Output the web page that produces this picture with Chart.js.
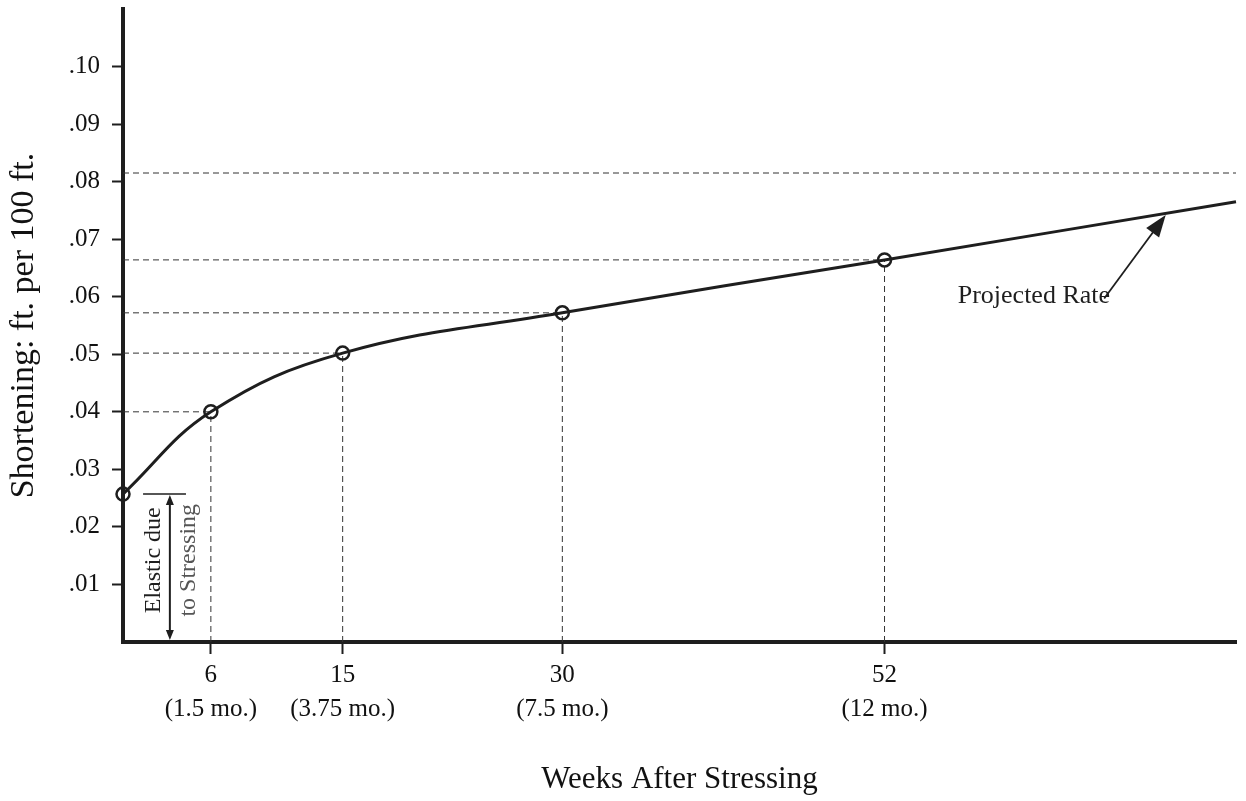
<!DOCTYPE html>
<html>
<head>
<meta charset="utf-8">
<script src="https://cdn.jsdelivr.net/npm/chart.js@4/dist/chart.umd.min.js"></script>
<style>
  html, body { margin: 0; padding: 0; background: #fff; }
  #wrap { width: 1246px; height: 801px; }
</style>
</head>
<body>
<div id="wrap"><canvas id="myChart"></canvas></div>
<script>
// measured points (weeks after stressing / shortening ft. per 100 ft.)
const weeks = [0, 6, 15, 30, 52];
const shortening = [0.0257, 0.040, 0.0502, 0.0572, 0.0664];
// projected rate, end of the line
const projWeek = 76;
const projShortening = 0.0765;
// month labels under the week ticks
const monthLabels = ['', '(1.5 mo.)', '(3.75 mo.)', '(7.5 mo.)', '(12 mo.)'];
const xTicks = [6, 15, 30, 52];
const yTicks = [0.01, 0.02, 0.03, 0.04, 0.05, 0.06, 0.07, 0.08, 0.09, 0.10];
// upper dashed guide
const upperGuide = 0.0815;

const INK = '#1e1e1e';
const SERIF = '"Liberation Serif", "Times New Roman", serif';

// curve data
const curve = weeks.map((w, i) => ({ x: w, y: shortening[i] }));
curve.push({ x: projWeek, y: projShortening });

// dashed guides to the axes
const guides = [];
for (let i = 1; i < weeks.length; i++) {
    guides.push([{ x: 0, y: shortening[i] }, { x: weeks[i], y: shortening[i] }]);
    guides.push([{ x: weeks[i], y: 0 }, { x: weeks[i], y: shortening[i] }]);
}
guides.push([{ x: 0, y: upperGuide }, { x: projWeek, y: upperGuide }]);

const datasets = [{
    data: curve,
    borderColor: INK,
    borderWidth: 3,
    tension: 0.4,
    clip: false,
    pointRadius: ctx => ctx.dataIndex < weeks.length ? 6.5 : 0,
    pointBorderWidth: 2.5,
    pointBorderColor: INK,
    pointBackgroundColor: 'rgba(0,0,0,0)',
    fill: false
}];
guides.forEach(g => datasets.push({
    data: g,
    borderColor: '#333',
    borderWidth: 1,
    borderDash: [6, 4],
    pointRadius: 0,
    tension: 0,
    fill: false
}));

function arrowHead(ctx, x0, y0, x1, y1, len, half) {
    const a = Math.atan2(y1 - y0, x1 - x0);
    ctx.beginPath();
    ctx.moveTo(x1, y1);
    ctx.lineTo(x1 - len * Math.cos(a) + half * Math.sin(a), y1 - len * Math.sin(a) - half * Math.cos(a));
    ctx.lineTo(x1 - len * Math.cos(a) - half * Math.sin(a), y1 - len * Math.sin(a) + half * Math.cos(a));
    ctx.closePath();
    ctx.fill();
}

// annotations: "Projected Rate" arrow and the elastic shortening bracket
const notes = {
    id: 'notes',
    afterDatasetsDraw(chart) {
        const { ctx, scales: { x, y } } = chart;
        ctx.save();
        ctx.strokeStyle = INK;
        ctx.fillStyle = INK;

        // projected rate
        const tx = x.getPixelForValue(67.0), ty = y.getPixelForValue(0.0597);
        const hx = x.getPixelForValue(71.2), hy = y.getPixelForValue(0.0742);
        ctx.lineWidth = 1.8;
        ctx.beginPath();
        ctx.moveTo(tx, ty);
        ctx.lineTo(hx - (hx - tx) * 0.15, hy - (hy - ty) * 0.15);
        ctx.stroke();
        arrowHead(ctx, tx, ty, hx, hy, 22, 8);
        ctx.font = '26px ' + SERIF;
        ctx.textAlign = 'right';
        ctx.textBaseline = 'middle';
        ctx.fillText('Projected Rate', x.getPixelForValue(67.4), y.getPixelForValue(0.0601));

        // elastic due to stressing
        const ex = x.getPixelForValue(3.2);
        const eTop = y.getPixelForValue(shortening[0]);
        const eBot = y.getPixelForValue(0);
        ctx.lineWidth = 1.5;
        ctx.beginPath();
        ctx.moveTo(x.getPixelForValue(1.37), eTop);
        ctx.lineTo(x.getPixelForValue(4.3), eTop);
        ctx.stroke();
        ctx.lineWidth = 2;
        ctx.beginPath();
        ctx.moveTo(ex, eTop + 8);
        ctx.lineTo(ex, eBot - 8);
        ctx.stroke();
        arrowHead(ctx, ex, eBot, ex, eTop + 1, 10, 4);
        arrowHead(ctx, ex, eTop, ex, eBot - 2, 10, 4);

        const ty2 = y.getPixelForValue(0.0142);
        ctx.textAlign = 'center';
        ctx.textBaseline = 'middle';
        ctx.font = '24px ' + SERIF;
        ctx.save();
        ctx.translate(x.getPixelForValue(2.1), ty2);
        ctx.rotate(-Math.PI / 2);
        ctx.fillText('Elastic due', 0, 0);
        ctx.restore();
        ctx.save();
        ctx.fillStyle = '#555';
        ctx.translate(x.getPixelForValue(4.5), ty2);
        ctx.rotate(-Math.PI / 2);
        ctx.fillText('to Stressing', 0, 0);
        ctx.restore();

        ctx.restore();
    }
};

new Chart(document.getElementById('myChart'), {
    type: 'line',
    data: { datasets: datasets },
    options: {
        responsive: true,
        maintainAspectRatio: false,
        animation: false,
        devicePixelRatio: 1,
        layout: { padding: { top: 8, right: 10, left: 0, bottom: 0 } },
        plugins: {
            legend: { display: false },
            tooltip: { enabled: false },
            title: { display: false }
        },
        scales: {
            x: {
                type: 'linear',
                min: 0,
                max: projWeek,
                afterBuildTicks: s => { s.ticks = xTicks.map(v => ({ value: v })); },
                afterFit: s => { s.height = 159; s.paddingLeft = 0; s.paddingRight = 0; },
                border: { display: true, color: INK, width: 4 },
                grid: { drawOnChartArea: false, drawTicks: true, tickLength: 12, tickWidth: 2, tickColor: INK },
                ticks: {
                    autoSkip: false,
                    maxRotation: 0,
                    padding: 4,
                    color: '#111',
                    font: { family: SERIF, size: 25, lineHeight: 1.36 },
                    callback: v => [String(v), monthLabels[weeks.indexOf(v)]]
                },
                title: {
                    display: true,
                    text: 'Weeks After Stressing',
                    color: '#111',
                    font: { family: SERIF, size: 31 },
                    padding: { top: 0, bottom: 3 }
                }
            },
            y: {
                min: 0,
                max: 0.11,
                afterBuildTicks: s => { s.ticks = yTicks.map(v => ({ value: v })); },
                afterFit: s => { s.width = 123; s.paddingTop = 0; s.paddingBottom = 0; },
                border: { display: true, color: INK, width: 4 },
                grid: { drawOnChartArea: false, drawTicks: true, tickLength: 11, tickWidth: 2, tickColor: INK },
                ticks: {
                    padding: 12,
                    color: '#111',
                    font: { family: SERIF, size: 25 },
                    callback: v => v.toFixed(2).slice(1)
                },
                title: {
                    display: true,
                    text: 'Shortening: ft. per 100 ft.',
                    color: '#111',
                    font: { family: SERIF, size: 34 },
                    padding: { top: 4, bottom: 0 }
                }
            }
        }
    },
    plugins: [notes]
});
</script>
</body>
</html>
